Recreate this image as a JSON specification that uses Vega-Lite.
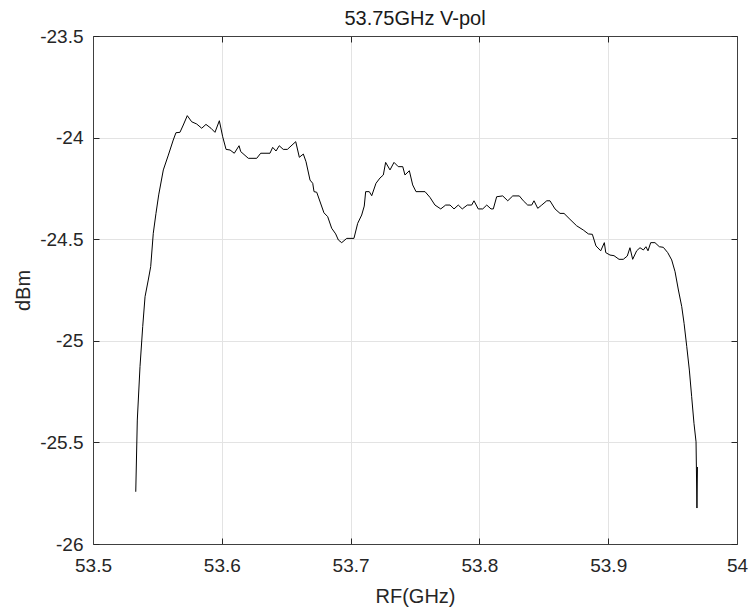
{
  "$schema": "https://vega.github.io/schema/vega-lite/v6.json",
  "width": 644,
  "height": 508,
  "autosize": {"type": "none"},
  "padding": {"left": 93, "top": 36, "right": 16, "bottom": 71},
  "background": "white",
  "config": {
    "view": {"stroke": null},
    "font": "Liberation Sans",
    "axis": {
      "domainColor": "#404040",
      "domainWidth": 1,
      "tickColor": "#262626",
      "tickSize": -6,
      "labelFont": "Liberation Sans",
      "labelFontSize": 19,
      "labelColor": "#262626",
      "titleFont": "Liberation Sans",
      "titleFontSize": 20,
      "titleFontWeight": "normal",
      "titleColor": "#262626",
      "gridColor": "#e3e3e3",
      "gridWidth": 1
    }
  },
  "title": {
    "text": "53.75GHz V-pol",
    "font": "Liberation Sans",
    "fontSize": 20,
    "fontWeight": "normal",
    "color": "#1a1a1a",
    "offset": -2
  },
  "data": {
    "values": [
      {"i": 1, "f": 53.5332, "p": -25.743},
      {"i": 2, "f": 53.5344, "p": -25.390},
      {"i": 3, "f": 53.5365, "p": -25.127},
      {"i": 4, "f": 53.5386, "p": -24.930},
      {"i": 5, "f": 53.5404, "p": -24.783},
      {"i": 6, "f": 53.5429, "p": -24.701},
      {"i": 7, "f": 53.5448, "p": -24.635},
      {"i": 8, "f": 53.5468, "p": -24.471},
      {"i": 9, "f": 53.5489, "p": -24.373},
      {"i": 10, "f": 53.5510, "p": -24.282},
      {"i": 11, "f": 53.5546, "p": -24.159},
      {"i": 12, "f": 53.5585, "p": -24.086},
      {"i": 13, "f": 53.5623, "p": -24.012},
      {"i": 14, "f": 53.5644, "p": -23.976},
      {"i": 15, "f": 53.5675, "p": -23.974},
      {"i": 16, "f": 53.5701, "p": -23.938},
      {"i": 17, "f": 53.5732, "p": -23.892},
      {"i": 18, "f": 53.5766, "p": -23.922},
      {"i": 19, "f": 53.5805, "p": -23.933},
      {"i": 20, "f": 53.5844, "p": -23.954},
      {"i": 21, "f": 53.5877, "p": -23.935},
      {"i": 22, "f": 53.5916, "p": -23.954},
      {"i": 23, "f": 53.5947, "p": -23.974},
      {"i": 24, "f": 53.5981, "p": -23.917},
      {"i": 25, "f": 53.6007, "p": -23.996},
      {"i": 26, "f": 53.6033, "p": -24.058},
      {"i": 27, "f": 53.6064, "p": -24.061},
      {"i": 28, "f": 53.6097, "p": -24.077},
      {"i": 29, "f": 53.6134, "p": -24.040},
      {"i": 30, "f": 53.6147, "p": -24.069},
      {"i": 31, "f": 53.6206, "p": -24.102},
      {"i": 32, "f": 53.6271, "p": -24.102},
      {"i": 33, "f": 53.6302, "p": -24.077},
      {"i": 34, "f": 53.6374, "p": -24.077},
      {"i": 35, "f": 53.6395, "p": -24.048},
      {"i": 36, "f": 53.6421, "p": -24.066},
      {"i": 37, "f": 53.6446, "p": -24.040},
      {"i": 38, "f": 53.6477, "p": -24.058},
      {"i": 39, "f": 53.6509, "p": -24.058},
      {"i": 40, "f": 53.6574, "p": -24.020},
      {"i": 41, "f": 53.6602, "p": -24.097},
      {"i": 42, "f": 53.6633, "p": -24.081},
      {"i": 43, "f": 53.6654, "p": -24.119},
      {"i": 44, "f": 53.6685, "p": -24.209},
      {"i": 45, "f": 53.6706, "p": -24.225},
      {"i": 46, "f": 53.6716, "p": -24.266},
      {"i": 47, "f": 53.6737, "p": -24.269},
      {"i": 48, "f": 53.6793, "p": -24.370},
      {"i": 49, "f": 53.6822, "p": -24.389},
      {"i": 50, "f": 53.6853, "p": -24.446},
      {"i": 51, "f": 53.6884, "p": -24.474},
      {"i": 52, "f": 53.6905, "p": -24.504},
      {"i": 53, "f": 53.6931, "p": -24.517},
      {"i": 54, "f": 53.6970, "p": -24.496},
      {"i": 55, "f": 53.7026, "p": -24.496},
      {"i": 56, "f": 53.7055, "p": -24.422},
      {"i": 57, "f": 53.7086, "p": -24.381},
      {"i": 58, "f": 53.7106, "p": -24.337},
      {"i": 59, "f": 53.7117, "p": -24.266},
      {"i": 60, "f": 53.7145, "p": -24.266},
      {"i": 61, "f": 53.7164, "p": -24.286},
      {"i": 62, "f": 53.7197, "p": -24.225},
      {"i": 63, "f": 53.7228, "p": -24.199},
      {"i": 64, "f": 53.7254, "p": -24.184},
      {"i": 65, "f": 53.7272, "p": -24.122},
      {"i": 66, "f": 53.7306, "p": -24.159},
      {"i": 67, "f": 53.7337, "p": -24.122},
      {"i": 68, "f": 53.7370, "p": -24.143},
      {"i": 69, "f": 53.7405, "p": -24.143},
      {"i": 70, "f": 53.7422, "p": -24.184},
      {"i": 71, "f": 53.7456, "p": -24.163},
      {"i": 72, "f": 53.7482, "p": -24.233},
      {"i": 73, "f": 53.7508, "p": -24.266},
      {"i": 74, "f": 53.7578, "p": -24.266},
      {"i": 75, "f": 53.7616, "p": -24.294},
      {"i": 76, "f": 53.7655, "p": -24.332},
      {"i": 77, "f": 53.7700, "p": -24.351},
      {"i": 78, "f": 53.7738, "p": -24.332},
      {"i": 79, "f": 53.7772, "p": -24.332},
      {"i": 80, "f": 53.7803, "p": -24.351},
      {"i": 81, "f": 53.7836, "p": -24.332},
      {"i": 82, "f": 53.7867, "p": -24.351},
      {"i": 83, "f": 53.7906, "p": -24.332},
      {"i": 84, "f": 53.7940, "p": -24.332},
      {"i": 85, "f": 53.7958, "p": -24.311},
      {"i": 86, "f": 53.7991, "p": -24.351},
      {"i": 87, "f": 53.8026, "p": -24.351},
      {"i": 88, "f": 53.8057, "p": -24.332},
      {"i": 89, "f": 53.8090, "p": -24.351},
      {"i": 90, "f": 53.8108, "p": -24.351},
      {"i": 91, "f": 53.8134, "p": -24.291},
      {"i": 92, "f": 53.8181, "p": -24.287},
      {"i": 93, "f": 53.8220, "p": -24.311},
      {"i": 94, "f": 53.8259, "p": -24.287},
      {"i": 95, "f": 53.8310, "p": -24.287},
      {"i": 96, "f": 53.8341, "p": -24.311},
      {"i": 97, "f": 53.8375, "p": -24.332},
      {"i": 98, "f": 53.8406, "p": -24.332},
      {"i": 99, "f": 53.8424, "p": -24.311},
      {"i": 100, "f": 53.8453, "p": -24.348},
      {"i": 101, "f": 53.8484, "p": -24.332},
      {"i": 102, "f": 53.8523, "p": -24.311},
      {"i": 103, "f": 53.8548, "p": -24.311},
      {"i": 104, "f": 53.8587, "p": -24.351},
      {"i": 105, "f": 53.8626, "p": -24.373},
      {"i": 106, "f": 53.8657, "p": -24.373},
      {"i": 107, "f": 53.8703, "p": -24.402},
      {"i": 108, "f": 53.8755, "p": -24.434},
      {"i": 109, "f": 53.8807, "p": -24.455},
      {"i": 110, "f": 53.8846, "p": -24.474},
      {"i": 111, "f": 53.8877, "p": -24.476},
      {"i": 112, "f": 53.8905, "p": -24.533},
      {"i": 113, "f": 53.8942, "p": -24.557},
      {"i": 114, "f": 53.8970, "p": -24.517},
      {"i": 115, "f": 53.8981, "p": -24.566},
      {"i": 116, "f": 53.9014, "p": -24.578},
      {"i": 117, "f": 53.9045, "p": -24.581},
      {"i": 118, "f": 53.9084, "p": -24.599},
      {"i": 119, "f": 53.9117, "p": -24.599},
      {"i": 120, "f": 53.9148, "p": -24.583},
      {"i": 121, "f": 53.9169, "p": -24.542},
      {"i": 122, "f": 53.9190, "p": -24.599},
      {"i": 123, "f": 53.9221, "p": -24.557},
      {"i": 124, "f": 53.9247, "p": -24.542},
      {"i": 125, "f": 53.9273, "p": -24.553},
      {"i": 126, "f": 53.9293, "p": -24.537},
      {"i": 127, "f": 53.9309, "p": -24.557},
      {"i": 128, "f": 53.9330, "p": -24.517},
      {"i": 129, "f": 53.9363, "p": -24.517},
      {"i": 130, "f": 53.9397, "p": -24.537},
      {"i": 131, "f": 53.9428, "p": -24.540},
      {"i": 132, "f": 53.9462, "p": -24.566},
      {"i": 133, "f": 53.9493, "p": -24.602},
      {"i": 134, "f": 53.9519, "p": -24.660},
      {"i": 135, "f": 53.9545, "p": -24.750},
      {"i": 136, "f": 53.9571, "p": -24.832},
      {"i": 137, "f": 53.9589, "p": -24.914},
      {"i": 138, "f": 53.9610, "p": -25.029},
      {"i": 139, "f": 53.9630, "p": -25.144},
      {"i": 140, "f": 53.9648, "p": -25.275},
      {"i": 141, "f": 53.9666, "p": -25.406},
      {"i": 142, "f": 53.9682, "p": -25.497},
      {"i": 143, "f": 53.9689, "p": -25.823},
      {"i": 144, "f": 53.9693, "p": -25.621}
    ]
  },
  "layer": [
    {
      "mark": {"type": "line", "color": "#000000", "strokeWidth": 1, "clip": true},
      "encoding": {
        "x": {
          "field": "f",
          "type": "quantitative",
          "scale": {"domain": [53.5, 54], "nice": false, "zero": false},
          "axis": {
            "orient": "bottom",
            "title": "RF(GHz)",
            "values": [53.5, 53.6, 53.7, 53.8, 53.9, 54],
            "labelExpr": "'' + datum.value",
            "labelPadding": 18,
            "titlePadding": 11,
            "grid": true,
            "labelFlush": false
          }
        },
        "y": {
          "field": "p",
          "type": "quantitative",
          "scale": {"domain": [-26, -23.5], "nice": false, "zero": false},
          "axis": {
            "orient": "left",
            "title": "dBm",
            "values": [-26, -25.5, -25, -24.5, -24, -23.5],
            "labelExpr": "'' + datum.value",
            "labelPadding": 16,
            "titlePadding": 6,
            "grid": true,
            "labelFlush": false
          }
        },
        "order": {"field": "i", "type": "quantitative"}
      }
    },
    {
      "mark": {"type": "line", "opacity": 0},
      "encoding": {
        "x": {
          "field": "f",
          "type": "quantitative",
          "scale": {"domain": [53.5, 54], "nice": false, "zero": false},
          "axis": {
            "orient": "top",
            "title": null,
            "values": [53.5, 53.6, 53.7, 53.8, 53.9, 54],
            "labels": false,
            "grid": false
          }
        },
        "y": {
          "field": "p",
          "type": "quantitative",
          "scale": {"domain": [-26, -23.5], "nice": false, "zero": false},
          "axis": {
            "orient": "right",
            "title": null,
            "values": [-26, -25.5, -25, -24.5, -24, -23.5],
            "labels": false,
            "grid": false
          }
        },
        "order": {"field": "i", "type": "quantitative"}
      }
    }
  ],
  "resolve": {"axis": {"x": "independent", "y": "independent"}}
}
